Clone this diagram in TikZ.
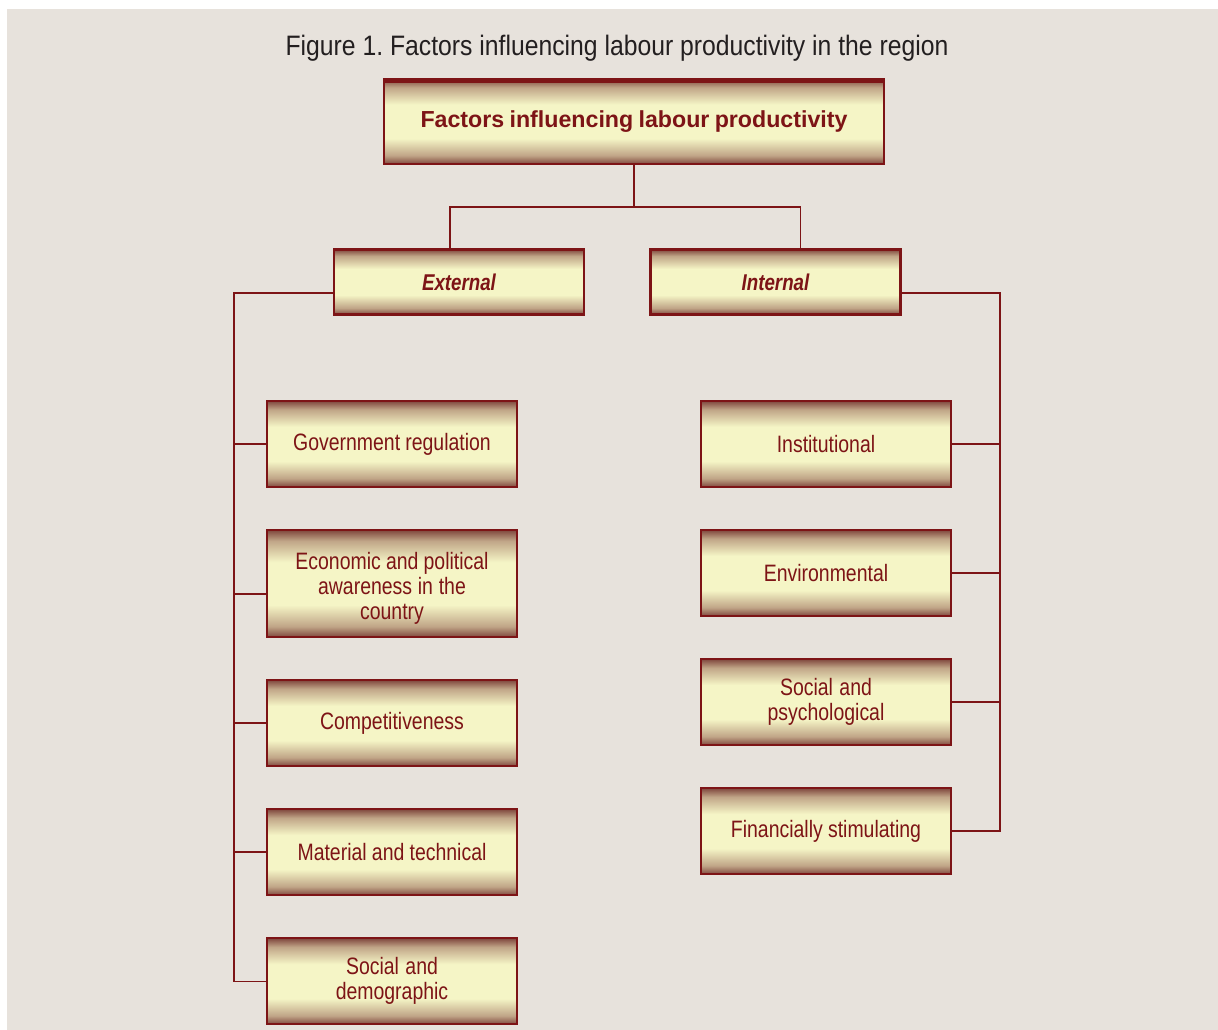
\documentclass[tikz,border=0pt]{standalone}
\usepackage{fontspec}
\setmainfont{Liberation Sans}
\newfontfamily\narrowfont[FakeStretch=0.82]{Liberation Sans}
\newfontfamily\capfont[FakeStretch=0.88]{Liberation Sans}
\usetikzlibrary{positioning}
\frenchspacing
\newcommand\tightwords{\spaceskip=0.2em plus 0.05em\relax}

\definecolor{panelgray}{RGB}{231,226,220}
\definecolor{captiongray}{RGB}{35,31,32}
\definecolor{boxred}{RGB}{125,20,22}
\definecolor{boxedge}{RGB}{128,72,62}
\definecolor{boxtan}{RGB}{192,165,135}
\definecolor{boxcream}{RGB}{245,245,198}
% dark at the top and bottom edge, cream in the middle
\pgfdeclareverticalshading{boxshade}{100bp}{color(0bp)=(boxedge); color(25bp)=(boxedge); color(30bp)=(boxtan); color(40bp)=(boxcream); color(60bp)=(boxcream); color(70bp)=(boxtan); color(75bp)=(boxedge); color(100bp)=(boxedge)}

\begin{document}
\begin{tikzpicture}[x=0.02cm, y=-0.02cm,
            node distance=0.82cm,
            factor/.style={draw=boxred, line width=1.2pt, shading=boxshade, text=boxred,
                minimum width=5cm, minimum height=1.72cm, text width=4.6cm, align=center,
                inner sep=0pt, font=\narrowfont\fontsize{13.5}{14.2}\selectfont,
                execute at begin node=\tightwords}, % every factor box
            group/.style={factor, minimum height=1.3cm,
                font=\narrowfont\bfseries\itshape\fontsize{13}{15}\selectfont}, % external / internal
            link/.style={draw=boxred, line width=0.9pt}, % connectors
        ]
        \useasboundingbox (0,0) rectangle (1218,1030);
        \fill[white] (0,0) rectangle (1218,1030);
        \fill[panelgray] (7,9) rectangle (1218,1030);

        \node (caption) [text=captiongray, font=\capfont\fontsize{16}{18}\selectfont] at (617,48)
            {Figure 1. Factors influencing labour productivity in the region};

        \node (head) [factor, minimum width=10cm, minimum height=1.7cm, text width=9.6cm,
            font=\bfseries\fontsize{13.2}{15}\selectfont, execute at begin node={}] at (634,121.5) {Factors influencing labour productivity};
        \node (external) [group] at (459,282) {External};
        \node (internal) [group] at (775.5,282) {Internal};

        % external factors
        \node (gov) [factor] at (392,444)                            {Government regulation};
        \node (econ) [factor, minimum height=2.14cm, below=of gov]   {\rule{0pt}{1.1em}Economic and political\\awareness in the\\country};
        \node (comp) [factor, below=of econ]                         {Competitiveness};
        \node (mat) [factor, below=of comp]                          {Material and technical};
        \node (socdem) [factor, below=of mat]                        {Social and\\demographic};

        % internal factors
        \node (inst) [factor] at (826,444)                           {Institutional};
        \node (env) [factor, below=of inst]                          {Environmental};
        \node (socpsy) [factor, below=of env]                        {Social and\\psychological};
        \node (fin) [factor, below=of socpsy]                        {Financially stimulating};

        \draw[boxred, line width=2.8pt] ([yshift=-1.2pt]head.north west) -- ([yshift=-1.2pt]head.north east); % heavy top rule

        \coordinate (split) at (634,207);
        \coordinate (lbus) at (234,0);
        \coordinate (rbus) at (1000,0);
        \coordinate (econin) at ([yshift=-0.21cm]econ.west);

        \draw[link] (head.south) -- (split);
        \draw[link] (split) -| ([xshift=-0.18cm]external.north);
        \draw[link] (split) -| ([xshift=0.5cm]internal.north);

        \draw[link] ([yshift=-0.22cm]external.west) -| (lbus |- socdem.west) -- (socdem.west);
        \foreach \n in {gov, comp, mat}
            \draw[link] (lbus |- \n.west) -- (\n.west);
        \draw[link] (lbus |- econin) -- (econin);

        \draw[link] ([yshift=-0.22cm]internal.east) -| (rbus |- fin.east) -- (fin.east);
        \foreach \n in {inst, env, socpsy}
            \draw[link] (rbus |- \n.east) -- (\n.east);
    \end{tikzpicture}
\end{document}
